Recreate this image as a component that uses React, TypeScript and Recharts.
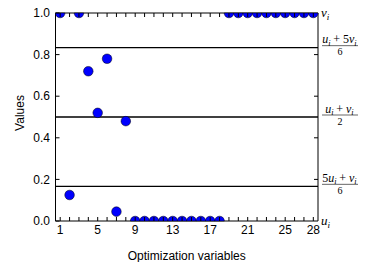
import { ScatterChart, Scatter, XAxis, YAxis, ReferenceLine } from 'recharts';

const variables = [1, 2, 3, 4, 5, 6, 7, 8, 9, 10, 11, 12, 13, 14, 15, 16, 17, 18, 19, 20, 21, 22, 23, 24, 25, 26, 27, 28];
const values = [1, 0.125, 1, 0.72, 0.52, 0.78, 0.045, 0.48, 0, 0, 0, 0, 0, 0, 0, 0, 0, 0, 1, 1, 1, 1, 1, 1, 1, 1, 1, 1];
const labelledTicks = [1, 5, 9, 13, 17, 21, 25, 28];
const yTicks = [0, 0.2, 0.4, 0.6, 0.8, 1.0];
const bounds = [1 / 6, 1 / 2, 5 / 6];
const rightTicks = [0, 1 / 6, 0.2, 0.4, 0.5, 0.6, 0.8, 5 / 6, 1];

const data = variables.map((x, i) => ({ x, y: values[i] }));

const SANS = '"Liberation Sans", Arial, sans-serif';
const SERIF = '"Liberation Serif", "DejaVu Serif", serif';
const R = 4.8;
const TICK = 4;

// markers sitting on the frame (y = 0 or 1) are cut in half by the axes
function Dot(props: any) {
  const { cx, cy } = props;
  const v = props.payload?.y;
  const style = { fill: '#0000ff', stroke: '#000', strokeWidth: 0.5 };
  if (v >= 1) {
    return <path d={`M${cx - R},${cy} A${R},${R} 0 0 0 ${cx + R},${cy} Z`} {...style} />;
  }
  if (v <= 0) {
    return <path d={`M${cx - R},${cy} A${R},${R} 0 0 1 ${cx + R},${cy} Z`} {...style} />;
  }
  return <circle cx={cx} cy={cy} r={R} {...style} />;
}

function NoDot() {
  return <g />;
}

function XTick(props: any) {
  const { x, y } = props;
  const v = props.payload.value;
  return (
    <g>
      <line x1={x} x2={x} y1={y} y2={y - TICK} stroke="#000" />
      {labelledTicks.includes(v) && (
        <text x={x} y={y + 4} dy="0.71em" textAnchor="middle" fontSize={12} fontFamily={SANS} fill="#000">
          {v}
        </text>
      )}
    </g>
  );
}

function TopTick(props: any) {
  const { x, y } = props;
  return <line x1={x} x2={x} y1={y} y2={y + TICK} stroke="#000" />;
}

function YTick(props: any) {
  const { x, y } = props;
  const v = props.payload.value;
  return (
    <g>
      <line x1={x} x2={x + TICK} y1={y} y2={y} stroke="#000" />
      <text x={x - 5.5} y={y} dy="0.355em" textAnchor="end" fontSize={12} fontFamily={SANS} fill="#000">
        {v.toFixed(1)}
      </text>
    </g>
  );
}

// italic letter with subscript i
function Sym({ c }: { c: string }) {
  return (
    <>
      <tspan fontStyle="italic">{c}</tspan>
      <tspan fontStyle="italic" fontSize="0.7em" dy={2.5}>i</tspan>
      <tspan dy={-2.5}>{'\u200a'}</tspan>
    </>
  );
}

function Plus() {
  return <tspan dx={1.5}>{'+ '}</tspan>;
}

function Frac({ x, y, num, den }: { x: number; y: number; num: any; den: string }) {
  const cx = x + 22;
  return (
    <g fontFamily={SERIF} fill="#000">
      <text x={cx} y={y - 4.5} textAnchor="middle" fontSize={12}>{num}</text>
      <line x1={x + 4} x2={x + 40} y1={y - 2} y2={y - 2} stroke="#000" strokeWidth={0.6} />
      <text x={cx} y={y + 7.5} textAnchor="middle" fontSize={10}>{den}</text>
    </g>
  );
}

function RightTick(props: any) {
  const v = props.payload.value;
  const x = props.x;
  const y = props.y;
  const near = (a: number) => Math.abs(v - a) < 1e-6;
  if (near(1) || near(0)) {
    return (
      <text x={x + 3} y={y + 4} fontSize={13} fontFamily={SERIF} fill="#000">
        <Sym c={v > 0.5 ? 'v' : 'u'} />
      </text>
    );
  }
  if (near(5 / 6)) {
    return <Frac x={x} y={y} den="6" num={<><Sym c="u" /><Plus />5<Sym c="v" /></>} />;
  }
  if (near(1 / 2)) {
    return <Frac x={x} y={y} den="2" num={<><Sym c="u" /><Plus /><Sym c="v" /></>} />;
  }
  if (near(1 / 6)) {
    return <Frac x={x} y={y} den="6" num={<>5<Sym c="u" /><Plus /><Sym c="v" /></>} />;
  }
  return <line x1={x - TICK} x2={x} y1={y} y2={y} stroke="#000" />;
}

function YTitle(props: any) {
  const vb = props.viewBox;
  const cy = vb.y + vb.height / 2 - 4;
  return (
    <text
      x={7}
      y={cy}
      transform={`rotate(-90 7 ${cy})`}
      dy="0.71em"
      textAnchor="middle"
      fontSize={12}
      fontFamily={SANS}
      fill="#000"
    >
      Values
    </text>
  );
}

function XTitle(props: any) {
  const vb = props.viewBox;
  return (
    <text x={vb.x + vb.width / 2} y={vb.y + 39} textAnchor="middle" fontSize={12} fontFamily={SANS} fill="#000">
      Optimization variables
    </text>
  );
}

export default function App() {
  return (
    <div style={{ marginTop: -4 }}>
      <ScatterChart width={366} height={258} margin={{ top: 8, right: 0, bottom: 0, left: 0 }}>
        <Scatter data={data} shape={<Dot />} isAnimationActive={false} />
        <Scatter data={data} xAxisId="top" yAxisId="right" shape={<NoDot />} isAnimationActive={false} />
        {bounds.map((b) => (
          <ReferenceLine key={b} y={b} stroke="#000" strokeWidth={1.3} />
        ))}
        <XAxis
          type="number"
          dataKey="x"
          domain={[0.5, 28.5]}
          ticks={variables}
          interval={0}
          height={41}
          tickSize={0}
          tickMargin={0}
          tick={<XTick />}
          tickLine={false}
          axisLine={{ stroke: '#000' }}
          label={<XTitle />}
        />
        <XAxis
          xAxisId="top"
          orientation="top"
          type="number"
          dataKey="x"
          domain={[0.5, 28.5]}
          ticks={variables}
          interval={0}
          height={1}
          tickSize={0}
          tickMargin={0}
          tick={<TopTick />}
          tickLine={false}
          axisLine={{ stroke: '#000' }}
        />
        <YAxis
          type="number"
          dataKey="y"
          domain={[0, 1]}
          ticks={yTicks}
          interval={0}
          width={47.5}
          tickSize={0}
          tickMargin={0}
          tick={<YTick />}
          tickLine={false}
          axisLine={{ stroke: '#000' }}
          label={<YTitle />}
        />
        <YAxis
          yAxisId="right"
          orientation="right"
          type="number"
          dataKey="y"
          domain={[0, 1]}
          ticks={rightTicks}
          interval={0}
          width={56}
          tickSize={0}
          tickMargin={0}
          tickLine={false}
          axisLine={{ stroke: '#000' }}
          tick={<RightTick />}
        />
      </ScatterChart>
    </div>
  );
}
